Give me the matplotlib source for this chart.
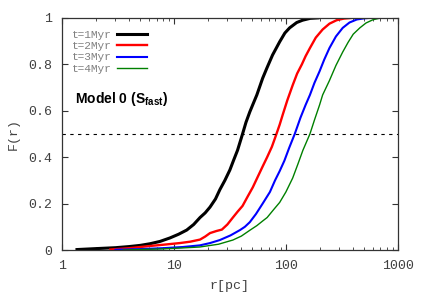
import numpy as np
import matplotlib
matplotlib.use('Agg')
import matplotlib.pyplot as plt

plt.rcParams['mathtext.fontset'] = 'custom'
plt.rcParams['mathtext.bf'] = 'Liberation Sans:bold'
plt.rcParams['mathtext.rm'] = 'Liberation Sans'

# cumulative distributions
r1 = [1.36, 2, 3, 4, 5, 6.1, 7.5, 9.2, 11, 13, 15, 17.1, 19, 21, 23.5, 25.7, 28.5, 31.6, 34, 37, 41, 44, 47.6, 51,
      55, 62, 67.8, 76, 88, 98, 108, 125, 141, 165, 193]
f1 = [0.002, 0.006, 0.01, 0.015, 0.02, 0.027, 0.037, 0.052, 0.068, 0.086, 0.11, 0.14, 0.16, 0.185, 0.22, 0.26, 0.30,
      0.345, 0.385, 0.43, 0.5, 0.55, 0.595, 0.63, 0.668, 0.74, 0.785, 0.84, 0.897, 0.935, 0.957, 0.98, 0.99, 0.998, 1.0]

r2 = [2.7, 4, 6, 8.5, 11.3, 14, 17.1, 19, 21, 24, 26.8, 30, 33.6, 37, 41, 45.5, 50.6, 56, 62, 68, 75, 81, 88, 94, 103,
      115, 126, 139, 150, 164, 185, 213, 245, 284, 330, 388]
f2 = [0.002, 0.008, 0.017, 0.024, 0.03, 0.036, 0.045, 0.058, 0.073, 0.082, 0.088, 0.11, 0.14, 0.165, 0.19, 0.23, 0.27,
      0.315, 0.36, 0.40, 0.445, 0.49, 0.54, 0.585, 0.645, 0.71, 0.76, 0.80, 0.835, 0.87, 0.915, 0.95, 0.975, 0.99,
      0.997, 1.0]

r3 = [3.0, 5, 8, 12, 17, 21, 25.7, 32, 38.9, 43, 47.6, 54, 62, 72, 80, 88, 97, 107, 120, 135, 150, 164, 180, 200,
      220, 245, 280, 322, 370, 430, 500, 560]
f3 = [0.001, 0.004, 0.008, 0.013, 0.02, 0.03, 0.043, 0.063, 0.086, 0.1, 0.12, 0.155, 0.2, 0.25, 0.3, 0.34, 0.385,
      0.44, 0.50, 0.57, 0.625, 0.668, 0.72, 0.77, 0.82, 0.87, 0.92, 0.957, 0.98, 0.993, 0.998, 1.0]

r4 = [3.5, 8, 12, 17, 25, 33.6, 40, 47.6, 55, 62, 68, 78, 88, 100, 115, 128, 142, 164, 180, 200, 213, 245, 280, 322,
      360, 400, 458, 520, 600, 680, 765]
f4 = [0.0, 0.005, 0.009, 0.013, 0.025, 0.043, 0.06, 0.085, 0.105, 0.125, 0.14, 0.175, 0.205, 0.25, 0.31, 0.37, 0.43,
      0.5, 0.56, 0.625, 0.668, 0.73, 0.795, 0.853, 0.895, 0.93, 0.957, 0.978, 0.992, 0.998, 1.0]

labels = ['t=1Myr', 't=2Myr', 't=3Myr', 't=4Myr']
colors = ['black', '#ff0000', '#0000ff', '#008000']
widths = [2.2, 1.7, 1.5, 1.0]

mono = 'Liberation Mono'
grey = '#404040'

fig = plt.figure(figsize=(4.25, 2.98), dpi=100)
ax = fig.add_axes([0.146, 0.161, 0.79, 0.779])

for r, f, lab, c, w in zip([r1, r2, r3, r4], [f1, f2, f3, f4], labels, colors, widths):
    ax.plot(r, f, color=c, lw=w, label=lab)

ax.axhline(0.5, color='black', lw=0.8, ls=(0, (3, 4)))

ax.set_xscale('log')
ax.set_xlim(1, 1000)
ax.set_ylim(0, 1)
ax.set_xticks([1, 10, 100, 1000])
ax.set_xticklabels(['1', '10', '100', '1000'])
ax.set_yticks([0, 0.2, 0.4, 0.6, 0.8, 1])
ax.set_yticklabels(['0', '0.2', '0.4', '0.6', '0.8', '1'])
ax.tick_params(which='both', direction='in', top=True, right=True, colors='#333333',
               labelcolor=grey, labelsize=9.5)
ax.tick_params(which='major', length=4, pad=7)
ax.tick_params(which='minor', length=2)
for lbl in ax.get_xticklabels() + ax.get_yticklabels():
    lbl.set_fontfamily(mono)
for s in ax.spines.values():
    s.set_color('#333333')
    s.set_linewidth(0.9)

ax.set_xlabel('r[pc]', family=mono, color=grey, fontsize=9.5, labelpad=6)
ax.set_ylabel('F(r)', family=mono, color=grey, fontsize=9.5, labelpad=6)

leg = ax.legend(loc='upper left', bbox_to_anchor=(0.0, 0.99), frameon=False,
                markerfirst=False, handlelength=2.7, handletextpad=0.5,
                labelspacing=0.1, prop={'family': mono, 'size': 8})
for t in leg.get_texts():
    t.set_color('#808080')

ax.text(0.04, 0.635, r'Model 0 (S$_{\mathbf{fast}}$)', transform=ax.transAxes,
        fontsize=10, fontweight='bold', family='Liberation Sans')

fig.savefig('out.png', dpi=100)
